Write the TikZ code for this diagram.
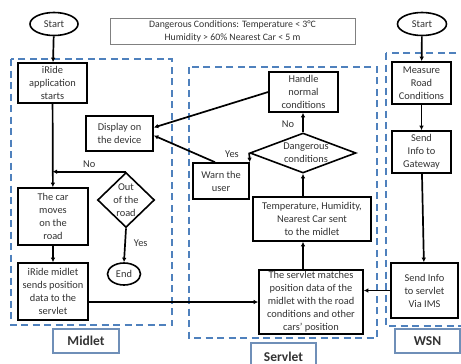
\documentclass[tikz,border=0pt]{standalone}
\usepackage{fontspec}
\setmainfont{Carlito}
\usetikzlibrary{shapes.geometric,arrows.meta}
\definecolor{dashblue}{HTML}{4F81BD}
\definecolor{lblblue}{HTML}{6F8FB8}
\definecolor{txtgray}{HTML}{333333}
\newcommand{\myfs}{\fontsize{10.4}{13}\selectfont}
\begin{document}
\begin{tikzpicture}[x=1pt,y=-1pt,
  box/.style={draw=black,line width=1.6pt,align=center,inner sep=0pt,font=\myfs,text=txtgray},
  txt/.style={align=center,inner sep=0pt,font=\myfs,text=txtgray},
  oval/.style={ellipse,draw=black,line width=1.6pt,inner sep=0pt,font=\myfs,text=txtgray},
  diam/.style={diamond,draw=black,line width=1.6pt,inner sep=0pt},
  area/.style={draw=dashblue,line width=1.5pt,dash pattern=on 7pt off 4.5pt},
  lbl/.style={draw=lblblue,line width=1.1pt,inner sep=0pt,text=txtgray,font=\fontsize{13.5}{15}\selectfont\bfseries},
  conn/.style={line width=1.7pt,-{Latex[length=4.5pt,width=4.5pt]}},
  lab/.style={inner sep=0pt,font=\myfs,text=txtgray}]
\clip (0,0) rectangle (461,364);
\fill[white] (0,0) rectangle (461,364);

% dashed areas
\draw[area] (11,59) rectangle (172,325);
\draw[area] (189,67) rectangle (377,338);
\draw[area] (386,53) rectangle (470,326);

% top row
\node[oval,minimum width=48pt,minimum height=23pt] (startL) at (54,24) {Start};
\node[draw=gray,line width=0.8pt,align=center,inner sep=0pt,minimum width=245pt,minimum height=26pt,text=txtgray,font=\fontsize{9.8}{13}\selectfont] (legend) at (232.5,31)
  {Dangerous Conditions: Temperature < 3°C\\Humidity > 60\% Nearest Car < 5 m};
\node[oval,minimum width=49pt,minimum height=23pt] (startR) at (422,24) {Start};

% Midlet
\node[box,minimum width=69pt,minimum height=40pt] (iride) at (52.5,83) {iRide\\application\\starts};
\node[box,minimum width=67pt,minimum height=35pt] (display) at (119.5,133.5) {Display on\\the device};
\node[box,minimum width=70pt,minimum height=57pt] (car) at (53,216.5) {The car\\moves\\on the\\road};
\node[diam,minimum width=57pt,minimum height=55pt] (out) at (126,200) {};
\node[txt] (outT) at (126,200) {Out\\of the\\road};
\node[oval,minimum width=33pt,minimum height=22pt] (end) at (124,274) {End};
\node[box,minimum width=70pt,minimum height=57pt] (mbox) at (53,291.5) {iRide midlet\\sends position\\data to the\\servlet};
\node[lbl,minimum width=66pt,minimum height=24pt] (midletL) at (86,341) {Midlet};

% Servlet
\node[box,minimum width=69pt,minimum height=40pt] (handle) at (303.5,92) {Handle\\normal\\conditions};
\node[diam,minimum width=106pt,minimum height=40pt] (dang) at (303,153) {};
\node[txt] (dangT) at (306,153) {Dangerous\\conditions};
\node[box,minimum width=56pt,minimum height=36pt] (warn) at (221,181) {Warn the\\user};
\node[box,minimum width=118pt,minimum height=44pt] (temp) at (312,219) {Temperature, Humidity,\\Nearest Car sent\\to the midlet};
\node[box,minimum width=104pt,minimum height=64pt] (match) at (311,302) {The servlet matches\\position data of the\\midlet with the road\\conditions and other\\cars’ position};
\node[lbl,minimum width=65pt,minimum height=28pt] (servletL) at (283.5,357) {Servlet};

% WSN
\node[box,minimum width=59pt,minimum height=42pt] (measure) at (421.5,83) {Measure\\Road\\Conditions};
\node[box,minimum width=59pt,minimum height=42pt] (gateway) at (421.5,152) {Send\\Info to\\Gateway};
\node[box,minimum width=67pt,minimum height=55pt] (ims) at (424.5,290.5) {Send Info\\to servlet\\Via IMS};
\node[lbl,minimum width=65pt,minimum height=24pt] (wsnL) at (427.5,341) {WSN};

% connectors
\draw[conn] (startL) -- (iride);
\draw[conn] (iride) -- (car);
\coordinate (nojoin) at (out.north -| iride.south);
\draw[conn] (out.north) -- node[lab,above=3pt] (noL) {No} (nojoin);
\draw[conn] (out.south) -- node[lab,right=8pt,pos=0.45] (yesL) {Yes} (end.north);
\draw[conn] (car) -- (mbox);
\draw[conn] (match.west -| mbox.east) -- (match.west);

\draw[conn] (match.north -| dang.south) -- (temp.south -| dang.south);
\draw[conn] (temp.north -| dang.south) -- (dang.south);
\draw[conn] (dang.north) -- node[lab,left=8pt,pos=0.4] (noL2) {No} (dang.north |- handle.south);
\draw[conn] (dang.west) -- (warn.north east);
\node[lab] (yesL2) at (232,154) {Yes};
\draw[conn] (handle.west) -- ([yshift=6pt]display.east);
\draw[conn] ([xshift=-6pt]warn.north) -- ([yshift=-2pt]display.east);

\draw[conn] (startR) -- (measure);
\draw[conn] (measure) -- (gateway);
\draw[conn] (gateway) -- (ims);
\draw[conn] (ims.west) -- (ims.west -| match.east);
\end{tikzpicture}
\end{document}
